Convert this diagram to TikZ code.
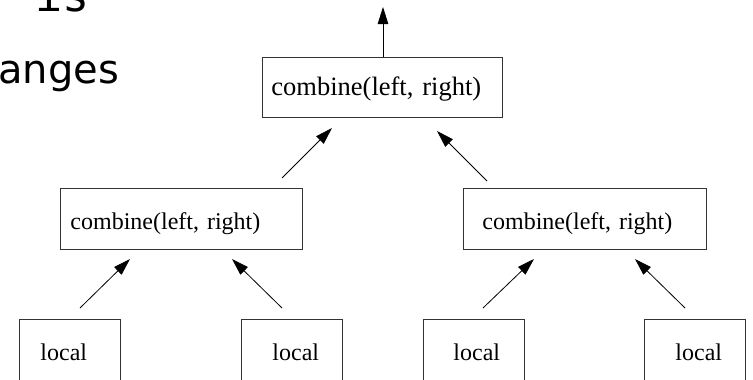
\documentclass[tikz,border=0pt]{standalone}
\usepackage{fontspec}
\setmainfont{Liberation Serif}
\newfontfamily\slidesans{DejaVu Sans}
\newfontfamily\slidemono{DejaVu Sans Mono}
\usetikzlibrary{arrows.meta}

\tikzset{
  % rectangle with its text set flush left at a given baseline
  box/.style={draw=black!80, line width=0.9pt, anchor=north west,
    inner ysep=0pt, align=left, font=\fontsize{24}{24}\selectfont},
  arr/.style={draw=black, line width=0.8pt,
    -{Triangle[length=17pt,width=10.5pt]}},
}

\begin{document}
\begin{tikzpicture}[x=1pt,y=-1pt]
  \useasboundingbox (0,0) rectangle (753,380);
  \clip (0,0) rectangle (753,380);

  % slide text behind the figure
  \node[inner sep=0pt, anchor=base west, font=\slidemono\fontsize{45}{45}\selectfont]
    (line1) at (-19,11) {r is};
  \node[inner sep=0pt, anchor=base west, font=\slidesans\fontsize{40}{40}\selectfont]
    (line2) at (-2,83) {anges};

  % root
  \node[box, font=\fontsize{26.5}{26.5}\selectfont, inner xsep=9pt, text width=222pt,
        text height=38.5pt, text depth=21.5pt] (T) at (262,57) {combine(left, right)};

  % inner combiners
  \node[box, inner xsep=10pt, text width=222pt, text height=41pt, text depth=20pt]
    (L) at (60,188) {combine(left, right)};
  \node[box, inner xsep=19pt, text width=205pt, text height=41pt, text depth=20pt]
    (R) at (463,188) {combine(left, right)};

  % leaves
  \node[box, inner xsep=21pt, text width=59pt, text height=41pt, text depth=40pt]
    (B1) at (19,319) {local};
  \node[box, inner xsep=31pt, text width=39pt, text height=41pt, text depth=40pt]
    (B2) at (241,319) {local};
  \node[box, inner xsep=30pt, text width=41pt, text height=41pt, text depth=40pt]
    (B3) at (423,319) {local};
  \node[box, inner xsep=31pt, text width=39pt, text height=41pt, text depth=40pt]
    (B4) at (644,319) {local};

  % arrow end points
  \coordinate (b1t) at (80,308);   \coordinate (l1h) at (130,259);
  \coordinate (b2t) at (282,308);  \coordinate (l2h) at (232,259);
  \coordinate (b3t) at (483,308);  \coordinate (r1h) at (534,259);
  \coordinate (b4t) at (685,308);  \coordinate (r2h) at (635,259);
  \coordinate (lt)  at (282,178);  \coordinate (t1h) at (332,128);
  \coordinate (rt)  at (487,181);  \coordinate (t2h) at (437,131);
  \coordinate (top) at (383,57);   \coordinate (out) at (383,7);

  \draw[arr] (b1t) -- (l1h);
  \draw[arr] (b2t) -- (l2h);
  \draw[arr] (b3t) -- (r1h);
  \draw[arr] (b4t) -- (r2h);
  \draw[arr] (lt) -- (t1h);
  \draw[arr] (rt) -- (t2h);
  \draw[arr] (T.north -| top) -- (out);
\end{tikzpicture}
\end{document}
